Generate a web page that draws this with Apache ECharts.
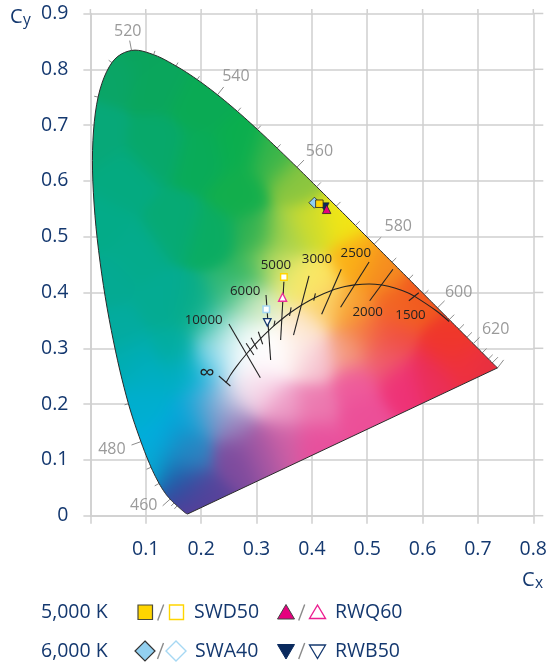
<!DOCTYPE html>
<html><head><meta charset="utf-8">
<style>html,body{margin:0;padding:0;background:#fff}#c{width:550px;height:666px}</style>
<script src="https://cdn.jsdelivr.net/npm/echarts@6/dist/echarts.min.js"></script>
</head><body><div id="c"></div>
<script>
// Spectral locus: wavelength, cx, cy
const locus = [
[380,.1755,.0030],[420,.1714,.0051],[440,.1644,.0109],[445,.1611,.0138],[450,.1566,.0177],[455,.1510,.0227],[460,.1440,.0297],[465,.1355,.0399],[470,.1241,.0578],[475,.1096,.0868],[480,.0913,.1327],[485,.0687,.2007],[490,.0454,.2950],[495,.0235,.4127],[500,.0082,.5384],[505,.0039,.6548],[510,.0139,.7502],[515,.0389,.8120],[520,.0743,.8338],[525,.1142,.8262],[530,.1547,.8059],[535,.1929,.7816],[540,.2296,.7543],[545,.2658,.7243],[550,.3016,.6923],[555,.3373,.6589],[560,.3731,.6245],[565,.4087,.5896],[570,.4441,.5547],[575,.4788,.5202],[580,.5125,.4866],[585,.5448,.4544],[590,.5752,.4242],[595,.6029,.3965],[600,.6270,.3725],[605,.6482,.3514],[610,.6658,.3340],[615,.6801,.3197],[620,.6915,.3083],[630,.7079,.2920],[640,.7190,.2809],[650,.7260,.2740],[660,.7300,.2700],[680,.7334,.2666],[700,.7355,.2650]];
// wavelength tick marks: wavelength, length in px
const wlTicks = [[450,4],[455,4],[460,10],[470,5],[475,5],[480,10],[485,4],[510,4],[515,4],[520,10],[525,4],[530,4],[535,4],[540,10],[545,5],[550,5],[555,5],[560,10],[565,6],[570,6],[575,6],[580,10],[585,6],[590,6],[595,6],[600,10],[605,7],[610,7],[615,7],[620,9],[630,6],[640,6],[650,8],[700,10]];
const wlLabels = [['520',.0675,.8674],['540',.2628,.7867],['560',.4136,.6523],['580',.5561,.5180],['600',.6651,.4009],['620',.7321,.3345],['480',.0388,.1195],['460',.0963,.0179]];
// Planckian locus
const planck = [[.2448,.2378],[.2530,.2522],[.2637,.2673],[.2807,.2884],[.2952,.3048],[.3064,.3166],[.3135,.3237],[.3221,.3318],[.3324,.3410],[.3451,.3516],[.3608,.3636],[.3805,.3768],[.4053,.3907],[.4369,.4041],[.4599,.4106],[.4770,.4137],[.5034,.4153],[.5267,.4133],[.5497,.4081],[.5732,.3995],[.5857,.3931],[.6246,.3674],[.6480,.3480]];
// isotherm segments: x1,y1,x2,y2
const isotherms = [
[.5752,.3853,.5932,.3996],[.5045,.3853,.5465,.4416],[.4519,.3735,.5034,.4547],[.4177,.3609,.4531,.4416],[.3669,.3238,.3949,.4296],[.3436,.3149,.3495,.4194],[.3256,.2790,.3172,.3955],[.2502,.3435,.3069,.2473],
[.2813,.3090,.2951,.2880],[.2902,.3190,.3015,.2982],[.3033,.3297,.3112,.3072],[.3333,.3495,.3315,.3400],[.3626,.3735,.3597,.3579],[.4064,.3986,.4034,.3853],
[.2320,.2503,.2529,.2324]];
const cctLabels = [['5000',.3351,.4493,13.3],['3000',.4093,.4595,13.3],['2500',.4794,.4703,13.3],['2000',.5009,.3645,13.3],['1500',.5782,.3597,13.3],['6000',.2795,.4022,13.3],['10000',.2046,.3507,13.3],['∞',.2107,.2540,22]];
// measured chromaticity points
const SWD50 = {before:[.4136,.5591], after:[.3495,.4278]};
const SWA40 = {before:[.4046,.5609], after:[.3177,.3699]};
const RWQ60 = {before:[.4267,.5491], after:[.3472,.3914]};
const RWB50 = {before:[.4231,.5527], after:[.3195,.3466]};
const xTicks=[0,.1,.2,.3,.4,.5,.6,.7,.8];
const yTicks=[0,.1,.2,.3,.4,.5,.6,.7,.8,.9];
// colour anchors of the gamut fill
const anchors = [
[.08,.84,'#0aa45c'],[.04,.80,'#0aa566'],[.12,.78,'#0aa65c'],[.2,.74,'#0aaa54'],[.27,.66,'#0aae4e'],[.2,.64,'#09ab58'],[.27,.58,'#12ae4c'],[.12,.66,'#07a86a'],[.15,.52,'#06aa74'],[.22,.5,'#0aac62'],[.005,.68,'#07a878'],[.06,.6,'#04aa80'],[.02,.52,'#03ab88'],[.08,.47,'#04ab8c'],[.03,.42,'#04aa92'],[.05,.33,'#03ab9e'],[.13,.38,'#04ab92'],[.07,.28,'#00adb2'],[.1,.25,'#00aec3'],[.15,.3,'#02ad9f'],[.167,.255,'#00aec4'],[.19,.37,'#07ac88'],[.1,.2,'#00aed0'],[.131,.136,'#00aede'],[.179,.177,'#00a8da'],[.209,.225,'#10b0e0'],[.11,.09,'#05add6'],[.167,.123,'#0e8cc6'],[.155,.076,'#1668ae'],[.167,.046,'#2e4a9f'],[.178,.005,'#5a3d97'],[.197,.046,'#5a429a'],[.179,.112,'#3f7fbf'],[.215,.183,'#5a98cc'],[.233,.202,'#a9a9d2'],[.22,.279,'#40bfe0'],[.238,.291,'#d8f0f8'],[.25,.22,'#eee4f0'],[.256,.166,'#9a7ab8'],[.256,.105,'#7c4a9d'],[.305,.123,'#a055a2'],[.346,.136,'#d060a5'],[.406,.136,'#e84f9c'],[.346,.195,'#eea0c8'],[.305,.225,'#f5c0dc'],[.287,.237,'#f7f3f7'],[.406,.195,'#ec7ab0'],[.478,.237,'#ee5a9c'],[.489,.177,'#ec4f98'],[.561,.237,'#ee3277'],[.615,.255,'#ea2e58'],[.676,.279,'#ee3040'],[.645,.302,'#f0342f'],[.525,.285,'#ee5f70'],[.466,.297,'#f4a080'],[.406,.279,'#f5c0d0'],[.376,.297,'#fdf0ea'],[.54,.32,'#f04a40'],[.73,.268,'#e7303f'],
[.27,.28,'#ffffff'],[.31,.27,'#fff8fb'],[.3,.31,'#ffffff'],[.34,.3,'#ffffff'],[.27,.32,'#fbfefd'],[.25,.33,'#c5eae8'],[.225,.34,'#38bea6'],[.25,.39,'#2cb675'],[.28,.37,'#bce5c0'],[.31,.38,'#e6f0c8'],[.29,.43,'#2fb560'],[.3,.5,'#2fb152'],[.35,.5,'#a8d24a'],[.33,.45,'#c6de62'],[.36,.42,'#f0ea70'],[.4,.42,'#fbe862'],[.42,.38,'#fbd06a'],[.38,.34,'#fde7cc'],[.5,.33,'#f4743a'],[.47,.37,'#f8a22f'],[.55,.37,'#f26522'],[.4,.52,'#cfdc2c'],[.45,.53,'#f2e615'],[.48,.46,'#fbb216'],[.52,.44,'#f58a20'],[.6,.39,'#f1591f'],[.66,.32,'#ee3a25'],[.37,.6,'#8cc63f'],[.33,.64,'#39b54a']];

const NAVY='#14386f', GRID='#cfcfcf', FONT='"Open Sans",sans-serif', SIGMA=.026;
const rgb=anchors.map(a=>[a[0],a[1],parseInt(a[2].slice(1,3),16),parseInt(a[2].slice(3,5),16),parseInt(a[2].slice(5,7),16)]);
let fillCanvas=null;
function buildFill(api){
  if(fillCanvas) return fillCanvas;
  const p0=api.coord([0,0]),p1=api.coord([1,1]);
  const W=550,H=666,c=document.createElement('canvas');c.width=W;c.height=H;
  const g=c.getContext('2d'),im=g.createImageData(W,H),q=2*SIGMA*SIGMA;
  for(let j=0;j<H;j++)for(let i=0;i<W;i++){
    const x=(i-p0[0])/(p1[0]-p0[0]),y=(j-p0[1])/(p1[1]-p0[1]);
    if(x<-.02||x>.78||y<-.02||y>.87)continue;
    let s=1e-300,r=0,gg=0,b=0;
    for(const a of rgb){const d=(x-a[0])*(x-a[0])+(y-a[1])*(y-a[1]),w=Math.exp(-d/q);s+=w;r+=w*a[2];gg+=w*a[3];b+=w*a[4];}
    const k=(j*W+i)*4;im.data[k]=r/s;im.data[k+1]=gg/s;im.data[k+2]=b/s;im.data[k+3]=255;
  }
  g.putImageData(im,0,0);fillCanvas=c;return c;
}
function catmull(pts){
  const out=[];
  for(let i=0;i<pts.length-1;i++){
    const a=pts[Math.max(i-1,0)],b=pts[i],c=pts[i+1],d=pts[Math.min(i+2,pts.length-1)];
    for(let k=0;k<6;k++){const t=k/6,t2=t*t,t3=t2*t;
      out.push([0,1].map(m=>.5*(2*b[m]+(c[m]-a[m])*t+(2*a[m]-5*b[m]+4*c[m]-d[m])*t2+(3*b[m]-a[m]-3*c[m]+d[m])*t3)));}
  }
  out.push(pts[pts.length-1]);return out;
}
const segStyle=(stroke,w)=>({stroke,lineWidth:w,fill:null});
function txt(t,x,y,size,color,align){return {type:'text',x:x,y:y,style:{text:t,font:size+'px '+FONT,fill:color,textAlign:align||'left',textVerticalAlign:'middle'}};}
function poly(points,fill,stroke,w){return {type:'polygon',shape:{points},style:{fill,stroke,lineWidth:w,lineJoin:'miter'}};}
function diamond(cx,cy,r,f,s,w){return poly([[cx,cy-r],[cx+r,cy],[cx,cy+r],[cx-r,cy]],f,s,w);}
function slash(x,y){return {type:'line',shape:{x1:x+3,y1:y-8,x2:x-3,y2:y+8},style:{stroke:'#8a8a8a',lineWidth:1.4}};}
function mark(name,pt,symbol,size,color,border,bw,rot,z){
  return {name,type:'scatter',symbol,symbolSize:size,symbolRotate:rot||0,z:z,data:[pt],animation:false,silent:true,
    itemStyle:{color,borderColor:border,borderWidth:bw,opacity:1}};
}
const chart=echarts.init(document.getElementById('c'),null,{renderer:'canvas',width:550,height:666});
const R1=612.5,R2=651;
chart.setOption({
  animation:false,backgroundColor:'#fff',
  grid:{left:90.4,top:13.5,width:445.44,height:502.2},
  xAxis:{type:'value',min:0,max:.8,interval:.1,
    axisLine:{show:true,lineStyle:{color:GRID,width:1.5}},axisTick:{show:true,length:8,lineStyle:{color:GRID,width:1.5}},
    splitLine:{show:true,lineStyle:{color:GRID,width:1.5}},
    axisLabel:{margin:24,fontFamily:FONT,fontSize:19.5,color:NAVY,formatter:v=>v===0?'':v.toFixed(1)}},
  yAxis:{type:'value',min:0,max:.9,interval:.1,
    axisLine:{show:true,lineStyle:{color:GRID,width:1.5}},axisTick:{show:true,length:7,lineStyle:{color:GRID,width:1.5}},
    splitLine:{show:true,lineStyle:{color:GRID,width:1.5}},
    axisLabel:{margin:22,fontFamily:FONT,fontSize:19.5,color:NAVY,formatter:v=>v===0?'0':v.toFixed(1)}},
  series:[
    {name:'grid extension',type:'custom',clip:false,silent:true,z:1,data:[0],renderItem(p,api){
      const ch=[];
      xTicks.forEach(v=>{const a=api.coord([v,.9]);ch.push({type:'line',shape:{x1:a[0],y1:a[1],x2:a[0],y2:a[1]-4.5},style:segStyle(GRID,1.5)});});
      yTicks.forEach(v=>{const a=api.coord([.8,v]);ch.push({type:'line',shape:{x1:a[0],y1:a[1],x2:a[0]+10,y2:a[1]},style:segStyle(GRID,1.5)});});
      return {type:'group',children:ch};
    }},
    {name:'wavelength ticks',type:'custom',clip:false,silent:true,z:2,data:wlTicks,renderItem(p,api){
      const wl=api.value(0),len=api.value(1),i=locus.findIndex(r=>r[0]===wl);
      const a=api.coord(locus[Math.max(i-1,0)].slice(1)),b=api.coord(locus[Math.min(i+1,locus.length-1)].slice(1)),o=api.coord(locus[i].slice(1));
      let dx=b[0]-a[0],dy=b[1]-a[1];const n=Math.hypot(dx,dy);dx/=n;dy/=n;
      return {type:'line',shape:{x1:o[0],y1:o[1],x2:o[0]+dy*len,y2:o[1]-dx*len},style:segStyle('#8c8c8c',1)};
    }},
    {name:'gamut',type:'custom',clip:false,silent:true,z:3,data:[0],renderItem(p,api){
      const pts=catmull(locus.map(r=>api.coord([r[1],r[2]])));
      return {type:'polygon',shape:{points:pts},style:{fill:{image:buildFill(api),repeat:'no-repeat'},stroke:'#2a2a2a',lineWidth:1}};
    }},
    {name:'isotherms',type:'custom',clip:false,silent:true,z:4,data:isotherms,renderItem(p,api){
      const a=api.coord([api.value(0),api.value(1)]),b=api.coord([api.value(2),api.value(3)]);
      return {type:'line',shape:{x1:a[0],y1:a[1],x2:b[0],y2:b[1]},style:segStyle('#222',1.1)};
    }},
    {name:'Planckian locus',type:'line',data:planck,smooth:.3,symbol:'none',z:4,silent:true,lineStyle:{color:'#222',width:1.1}},
    {name:'wavelength labels',type:'custom',clip:false,silent:true,z:5,data:wlLabels.map(r=>[r[1],r[2]]),renderItem(p,api){
      const c=api.coord([api.value(0),api.value(1)]);
      return {type:'text',x:c[0],y:c[1],style:{text:wlLabels[p.dataIndex][0],font:'16px '+FONT,fill:'#9a9a9a',textAlign:'center',textVerticalAlign:'middle'}};
    }},
    {name:'temperature labels',type:'custom',clip:false,silent:true,z:5,data:cctLabels.map(r=>[r[1],r[2]]),renderItem(p,api){
      const c=api.coord([api.value(0),api.value(1)]),r=cctLabels[p.dataIndex];
      return {type:'text',x:c[0],y:c[1],style:{text:r[0],font:r[3]+'px '+FONT,fill:'#222',textAlign:'center',textVerticalAlign:'middle'}};
    }},
    mark('SWA40',SWA40.before,'diamond',11,'#8fd0f0','#222',.8,0,6),
    mark('RWB50',RWB50.before,'triangle',9,'#0a2a5e','#222',.6,180,7),
    mark('SWD50',SWD50.before,'rect',7.5,'#ffd500','#222',.8,0,8),
    mark('RWQ60',RWQ60.before,'triangle',8.5,'#e6007e','#222',.8,0,9),
    mark('SWD50 LED',SWD50.after,'rect',6.5,'#ffffff','#ffd500',1.4,0,8),
    mark('SWA40 LED',SWA40.after,'rect',6.5,'#ffffff','#a6d8f3',1.6,0,8),
    mark('RWQ60 LED',RWQ60.after,'triangle',8,'#ffffff','#ec2f9a',1.4,0,8),
    mark('RWB50 LED',RWB50.after,'triangle',7.5,'#ffffff','#14386f',1.3,180,8)
  ],
  graphic:[
    txt('C',10,17,20,NAVY),txt('y',23,21,15.5,NAVY),
    txt('C',522,580,20,NAVY),txt('x',535,584,15.5,NAVY),
    txt('5,000 K',41,R1,19.5,NAVY),txt('6,000 K',41,R2,19.5,NAVY),
    txt('SWD50',194,R1,19.5,NAVY),txt('RWQ60',335,R1,19.5,NAVY),
    txt('SWA40',195,R2,19.5,NAVY),txt('RWB50',335,R2,19.5,NAVY),
    {type:'rect',shape:{x:138,y:605,width:14.5,height:14.5},style:{fill:'#ffd500',stroke:'#4a4a3a',lineWidth:1.2}},
    slash(160.7,R1),
    {type:'rect',shape:{x:169.5,y:605,width:14,height:14.5},style:{fill:'#fff',stroke:'#ffd500',lineWidth:1.4}},
    poly([[277.5,619],[286,604.5],[294.5,619]],'#e6007e','#444',1),
    slash(301.7,R1),
    poly([[309.5,618.5],[317.5,605],[325.5,618.5]],'#fff','#ec1e90',1.4),
    diamond(145,R2,10,'#93d0f0','#333',1.2),slash(160.5,R2),diamond(176,R2,10,'#fff','#a6d8f3',1.4),
    poly([[277.5,644.5],[294.5,644.5],[286,659]],'#0a2a5e','#0a2a5e',1),
    slash(301.7,R2),
    poly([[309.5,645],[325.5,645],[317.5,658.5]],'#fff','#14386f',1.3)
  ]
});
</script></body></html>
